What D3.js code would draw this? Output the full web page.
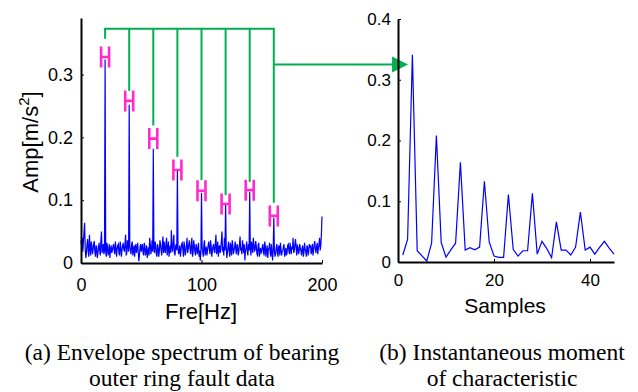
<!DOCTYPE html>
<html>
<head>
<meta charset="utf-8">
<script src="https://cdn.jsdelivr.net/npm/d3@7"></script>
<style>
  body { margin: 0; background: #fff; }
  svg { display: block; }
  .axis text { font-family: "Liberation Sans", Arial, sans-serif; fill: #000; }
  .axis path, .axis line { stroke: #000; }
</style>
</head>
<body>
<div id="chart"></div>
<script>
// envelope spectrum at whole Hz, 0 to 200
const spectrum = [
  0.036,0.040,0.033,0.064,0.008,0.030,0.018,0.045,0.012,0.028,
  0.020,0.035,0.010,0.026,0.015,0.032,0.012,0.050,0.022,0.014,
  0.324,0.010,0.026,0.018,0.008,0.028,0.020,0.030,0.014,0.025,
  0.022,0.030,0.012,0.027,0.020,0.032,0.018,0.045,0.016,0.028,
  0.252,0.020,0.030,0.012,0.028,0.024,0.016,0.032,0.003,0.026,
  0.018,0.030,0.012,0.027,0.020,0.008,0.025,0.040,0.014,0.036,
  0.182,0.016,0.028,0.010,0.024,0.018,0.030,0.012,0.042,0.034,
  0.016,0.040,0.022,0.010,0.028,0.052,0.018,0.045,0.012,0.030,
  0.147,0.014,0.028,0.020,0.032,0.010,0.026,0.018,0.040,0.022,
  0.036,0.014,0.040,0.016,0.028,0.012,0.026,0.020,0.010,0.004,
  0.112,0.018,0.030,0.012,0.026,0.020,0.034,0.014,0.028,0.018,
  0.030,0.016,0.045,0.020,0.010,0.028,0.022,0.050,0.026,0.040,
  0.096,0.008,0.026,0.018,0.032,0.012,0.028,0.020,0.034,0.014,
  0.026,0.018,0.042,0.022,0.036,0.016,0.004,0.024,0.018,0.030,
  0.113,0.012,0.026,0.040,0.018,0.035,0.014,0.028,0.010,0.024,
  0.018,0.030,0.012,0.026,0.020,0.008,0.024,0.016,0.030,0.004,
  0.072,0.010,0.024,0.016,0.028,0.012,0.022,0.018,0.026,0.010,
  0.024,0.016,0.030,0.014,0.022,0.026,0.040,0.020,0.038,0.012,
  0.026,0.018,0.024,0.012,0.028,0.016,0.022,0.010,0.026,0.018,
  0.024,0.014,0.030,0.020,0.035,0.016,0.032,0.024,0.040,0.028,
  0.074
];

// envelope spectrum at the half Hz bins, 0.5 to 199.5
const spectrumMid = [
  0.028,0.018,0.050,0.022,0.016,0.038,0.010,0.024,0.034,0.014,
  0.030,0.018,0.028,0.008,0.024,0.020,0.036,0.016,0.030,0.020,
  0.018,0.032,0.012,0.030,0.022,0.016,0.026,0.020,0.034,0.010,
  0.028,0.016,0.034,0.010,0.026,0.022,0.030,0.012,0.036,0.018,
  0.026,0.014,0.034,0.020,0.010,0.030,0.022,0.018,0.012,0.030,
  0.024,0.016,0.032,0.012,0.028,0.018,0.012,0.030,0.022,0.018,
  0.024,0.034,0.014,0.030,0.010,0.036,0.020,0.028,0.016,0.022,
  0.030,0.012,0.034,0.020,0.016,0.026,0.032,0.016,0.026,0.020,
  0.026,0.018,0.010,0.030,0.022,0.034,0.012,0.028,0.016,0.030,
  0.022,0.028,0.010,0.036,0.018,0.030,0.014,0.032,0.020,0.016,
  0.024,0.010,0.036,0.020,0.012,0.028,0.022,0.036,0.010,0.026,
  0.020,0.032,0.014,0.034,0.024,0.016,0.036,0.018,0.012,0.020,
  0.028,0.016,0.034,0.010,0.024,0.036,0.014,0.026,0.020,0.030,
  0.012,0.030,0.020,0.014,0.026,0.030,0.020,0.034,0.012,0.020,
  0.024,0.034,0.016,0.030,0.022,0.026,0.012,0.032,0.020,0.016,
  0.026,0.016,0.034,0.010,0.028,0.022,0.032,0.010,0.018,0.022,
  0.020,0.014,0.030,0.010,0.026,0.032,0.012,0.020,0.030,0.016,
  0.012,0.028,0.020,0.032,0.014,0.022,0.016,0.030,0.024,0.028,
  0.014,0.030,0.020,0.024,0.010,0.032,0.018,0.028,0.012,0.030,
  0.028,0.020,0.012,0.030,0.022,0.026,0.014,0.030,0.020,0.046
];

// fault harmonics and their markers
const harmonics = [20, 40, 60, 80, 100, 120, 140, 160];
const markerAmp = [0.328, 0.258, 0.198, 0.148, 0.115, 0.094, 0.116, 0.075];
const guideEnd = [0.357, 0.274, 0.219, 0.169, 0.132, 0.108, 0.129, 0.096];
const guideTop = 0.373;
const arrowLevel = 0.316;
const arrowTip = 2.1; // in samples of the right panel

// instantaneous moment of characteristic, samples 1..45
const moment = [
  0.0115,0.037,0.341,0.0185,0.010,0.0016,0.031,0.208,0.032,0.008,
  0.020,0.031,0.164,0.0197,0.0235,0.020,0.0245,0.133,0.033,0.0098,
  0.0076,0.0076,0.111,0.021,0.0098,0.0185,0.0185,0.113,0.013,0.034,
  0.022,0.0072,0.066,0.0196,0.0196,0.0115,0.0245,0.082,0.0196,0.0245,
  0.013,0.024,0.034,0.023,0.013
];

const leftYTicks = [0, 0.1, 0.2, 0.3];
const leftXTicks = [0, 100, 200];
const rightYTicks = [0, 0.1, 0.2, 0.3, 0.4];
const rightXTicks = [0, 20, 40];

const captionA = ["(a) Envelope spectrum of bearing", "outer ring fault data"];
const captionB = ["(b) Instantaneous moment", "of characteristic"];

const W = 638, H = 392;
const blue = "#0000ff", green = "#00b050", pink = "#ff2bcc";
const sans = '"Liberation Sans", Arial, sans-serif';
const serif = '"Liberation Serif", "Times New Roman", serif';

// merge the whole and half Hz bins into one series
const specPoints = [];
spectrum.forEach((v, i) => {
  specPoints.push([i, v]);
  if (i < spectrumMid.length) specPoints.push([i + 0.5, spectrumMid[i]]);
});

const svg = d3.select("#chart").append("svg")
  .attr("width", W).attr("height", H);
svg.append("rect").attr("width", W).attr("height", H).attr("fill", "#fff");

// scales
const xL = d3.scaleLinear().domain([0, 200]).range([81, 322]);
const yL = d3.scaleLinear().domain([0, 0.39]).range([263, 18]);
const xR = d3.scaleLinear().domain([0, 45]).range([398, 614]);
const yR = d3.scaleLinear().domain([0, 0.4]).range([262, 19]);

const fmt = d3.format("~g");

// ---- left panel ----
svg.append("path")
  .datum(specPoints)
  .attr("fill", "none")
  .attr("stroke", blue)
  .attr("stroke-width", 1.2)
  .attr("d", d3.line().x(d => xL(d[0])).y(d => yL(d[1])));

// green guide lines
const guides = svg.append("g").attr("stroke", green).attr("stroke-width", 2).attr("fill", "none");
guides.selectAll("line.v")
  .data(harmonics)
  .join("line")
  .attr("class", "v")
  .attr("x1", d => xL(d)).attr("x2", d => xL(d))
  .attr("y1", yL(guideTop))
  .attr("y2", (d, i) => yL(guideEnd[i]));
guides.append("line")
  .attr("x1", xL(harmonics[0]) - 1).attr("x2", xL(harmonics[harmonics.length - 1]) + 1)
  .attr("y1", yL(guideTop)).attr("y2", yL(guideTop));
guides.append("line")
  .attr("x1", xL(harmonics[harmonics.length - 1]))
  .attr("x2", xR(arrowTip) - 14)
  .attr("y1", yL(arrowLevel)).attr("y2", yL(arrowLevel));
svg.append("path")
  .attr("fill", green)
  .attr("d", () => {
    const tx = xR(arrowTip), ty = yL(arrowLevel);
    return `M${tx},${ty}L${tx - 16},${ty - 8}L${tx - 16},${ty + 8}Z`;
  });

// H markers
svg.append("g")
  .attr("stroke", pink).attr("stroke-width", 2.6).attr("fill", "none")
  .selectAll("path")
  .data(harmonics)
  .join("path")
  .attr("d", (d, i) => {
    const cx = xL(d), cy = yL(markerAmp[i]);
    return `M${cx - 4},${cy - 10.5}V${cy + 10.5}M${cx + 4},${cy - 10.5}V${cy + 10.5}M${cx - 4},${cy}H${cx + 4}`;
  });

// left axes
svg.append("g")
  .attr("class", "axis")
  .attr("transform", `translate(${xL(0)},0)`)
  .call(d3.axisLeft(yL).tickValues(leftYTicks).tickFormat(fmt)
    .tickSizeInner(-3).tickSizeOuter(0).tickPadding(8))
  .call(g => g.select(".domain").attr("stroke-width", 2))
  .call(g => g.selectAll("text").attr("font-size", 18));

svg.append("g")
  .attr("class", "axis")
  .attr("transform", `translate(0,${yL(0)})`)
  .call(d3.axisBottom(xL).tickValues(leftXTicks).tickFormat(fmt)
    .tickSizeInner(-3).tickSizeOuter(0).tickPadding(15))
  .call(g => g.select(".domain").attr("stroke-width", 2))
  .call(g => g.selectAll("text").attr("font-size", 18));

// left axis titles
const amp = svg.append("text")
  .attr("transform", "translate(38,142) rotate(-90)")
  .attr("text-anchor", "middle")
  .attr("font-family", sans)
  .attr("font-size", 22);
amp.append("tspan").text("Amp[m/s");
amp.append("tspan").attr("font-size", 15).attr("dy", -9).text("2");
amp.append("tspan").attr("dy", 9).text("]");

svg.append("text")
  .attr("x", 201).attr("y", 319)
  .attr("text-anchor", "middle")
  .attr("font-family", sans)
  .attr("font-size", 22)
  .text("Fre[Hz]");

// ---- right panel ----
svg.append("path")
  .datum(moment)
  .attr("fill", "none")
  .attr("stroke", blue)
  .attr("stroke-width", 1.2)
  .attr("d", d3.line().x((d, i) => xR(i + 1)).y(d => yR(d)));

svg.append("g")
  .attr("class", "axis")
  .attr("transform", `translate(${xR(0)},0)`)
  .call(d3.axisLeft(yR).tickValues(rightYTicks).tickFormat(fmt)
    .tickSizeInner(-3).tickSizeOuter(0).tickPadding(7))
  .call(g => g.select(".domain").attr("stroke-width", 2))
  .call(g => g.selectAll("text").attr("font-size", 17));

svg.append("g")
  .attr("class", "axis")
  .attr("transform", `translate(0,${yR(0)})`)
  .call(d3.axisBottom(xR).tickValues(rightXTicks).tickFormat(fmt)
    .tickSizeInner(-3).tickSizeOuter(0).tickPadding(12))
  .call(g => g.select(".domain").attr("stroke-width", 2))
  .call(g => g.selectAll("text").attr("font-size", 17));

svg.append("text")
  .attr("x", 505).attr("y", 313)
  .attr("text-anchor", "middle")
  .attr("font-family", sans)
  .attr("font-size", 21)
  .text("Samples");

// captions
[[captionA, 182], [captionB, 502]].forEach(([lines, cx]) => {
  svg.append("g")
    .selectAll("text")
    .data(lines)
    .join("text")
    .attr("x", cx)
    .attr("y", (d, i) => 360 + i * 26)
    .attr("text-anchor", "middle")
    .attr("font-family", serif)
    .attr("font-size", 23.5)
    .text(d => d);
});
</script>
</body>
</html>
